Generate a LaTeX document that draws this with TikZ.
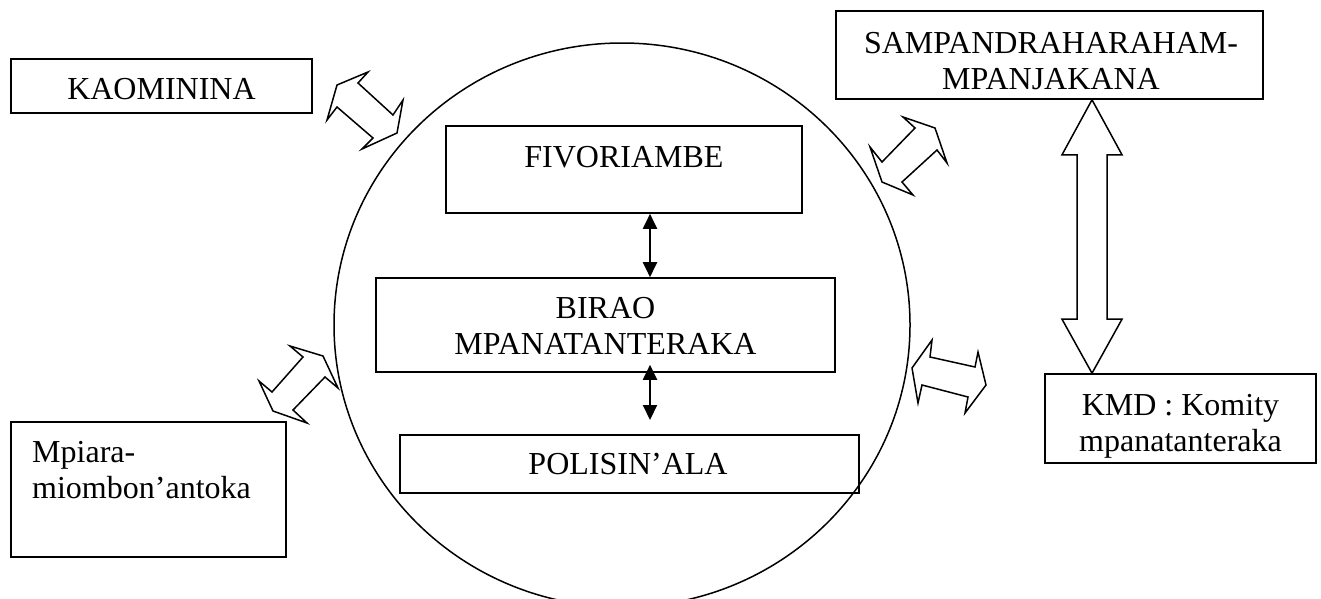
\documentclass[tikz,border=0pt]{standalone}
\usepackage{fontspec}
\setmainfont{Liberation Serif}
\usetikzlibrary{arrows.meta,calc}
\begin{document}
\begin{tikzpicture}[x=1pt,y=-1pt,
  box/.style={draw, line width=1.6pt, rectangle, inner sep=0pt},
  lbl/.style={font=\fontsize{32}{36}\selectfont, inner sep=0pt},
  blk/.style={draw, line width=1.5pt, line join=miter, fill=white},
  dbl/.style={line width=2pt, {Triangle[length=15pt,width=14pt]}-{Triangle[length=15pt,width=14pt]}}
]
\useasboundingbox (0,0) rectangle (1321,598);
\fill[white] (0,0) rectangle (1321,598);

% big circle
\draw[line width=1.5pt] (622,325) ellipse [x radius=288pt, y radius=282pt];

% boxes
\node[box, minimum width=301pt, minimum height=54pt] (kao) at (161.5,86) {};
\node[box, minimum width=427pt, minimum height=88pt] (sam) at (1049.5,55) {};
\node[box, minimum width=356pt, minimum height=87pt] (fiv) at (624,169.5) {};
\node[box, minimum width=459pt, minimum height=94pt] (birao) at (605.5,325) {};
\node[box, minimum width=459pt, minimum height=58pt] (pol) at (629.5,464) {};
\node[box, minimum width=271pt, minimum height=89pt] (kmd) at (1180.5,418.5) {};
\node[box, minimum width=275pt, minimum height=135pt] (mpi) at (148.5,489.5) {};

% texts
\node[lbl, anchor=base] (tkao) at (161.5,99) {KAOMININA};
\node[lbl, align=center] (tsam) at (1051,61) {SAMPANDRAHARAHAM-\\MPANJAKANA};
\node[lbl, anchor=base] (tfiv) at (624,167.5) {FIVORIAMBE};
\node[lbl, align=center] (tbirao) at (605.5,325.5) {BIRAO\\MPANATANTERAKA};
\node[lbl, anchor=base] (tpol) at (628,474) {POLISIN’ALA};
\begin{scope}
  \clip (kmd.south west) rectangle (kmd.north east);
  \node[lbl, align=center] (tkmd) at (1180.5,426) {KMD : Komity\\mpanatanteraka};
\end{scope}
\node[lbl, align=left, anchor=north west] (tmpi) at (32,441.5) {Mpiara-\\miombon’antoka};

% small double arrows
\coordinate (ax) at (650,0);
\coordinate (e2) at (650,420);
\draw[dbl] (fiv.south -| ax) -- (birao.north -| ax);
\draw[dbl] ($(birao.south -| ax)+(0,-8)$) -- (e2);

% block double arrows
\draw[blk] (368,72) -- (358,83) -- (393,115) -- (403,100) -- (397,133) -- (362,149) -- (373,138) -- (337,107) -- (327,120) -- (337,85) -- cycle;
\draw[blk] (903,117) -- (935,128) -- (947,163) -- (937,150) -- (902,182) -- (913,195) -- (882,182) -- (870,147) -- (882,162) -- (915,128) -- cycle;
\draw[blk] (932,340) -- (930,357) -- (975,367) -- (978,352) -- (986,385) -- (965,413) -- (968,397) -- (922,385) -- (918,403) -- (912,368) -- cycle;
\draw[blk] (290,346) -- (323,356) -- (338,388) -- (325,377) -- (293,410) -- (307,423) -- (273,411) -- (259,381) -- (272,392) -- (303,357) -- cycle;

% vertical block arrow between SAM and KMD
\coordinate (bx) at (1092,0);
\coordinate (vt) at (sam.south -| bx);
\coordinate (vb) at (kmd.north -| bx);
\draw[blk] (vt) -- ($(vt)+(30,55)$) -- ($(vt)+(15,55)$) -- ($(vb)+(15,-54)$) -- ($(vb)+(30,-54)$) -- (vb)
  -- ($(vb)+(-30,-54)$) -- ($(vb)+(-15,-54)$) -- ($(vt)+(-15,55)$) -- ($(vt)+(-30,55)$) -- cycle;
\end{tikzpicture}
\end{document}
